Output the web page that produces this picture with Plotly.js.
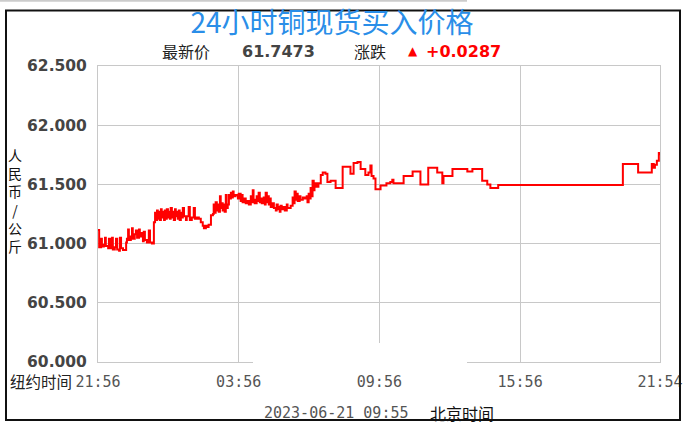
<!DOCTYPE html>
<html>
<head>
<meta charset="utf-8">
<script src="https://cdn.plot.ly/plotly-3.0.1.min.js"></script>
<style>html,body{margin:0;padding:0;background:#fff;}#chart{width:688px;height:437px;}</style>
</head>
<body>
<div id="chart"></div>
<script>
// minutes since 21:56 (New York time) and price in CNY/kg (x1000)
const minutes = [0,3,8,10,15,18,20,26,28,31,33,36,38,43,46,49,54,56,59,64,72,74,77,79,84,87,89,94,97,100,105,107,112,115,117,120,125,130,133,138,
143,146,148,151,153,156,158,161,163,166,169,171,174,176,179,181,184,186,189,192,194,197,199,202,204,207,209,212,215,217,220,225,227,232,235,240,245,248,253,258,
263,268,271,276,281,283,289,294,296,299,301,304,306,309,312,314,317,319,322,324,327,329,332,335,337,340,342,345,347,352,358,360,365,368,370,373,378,381,386,391,
393,396,398,401,406,409,411,414,416,419,424,427,429,432,434,437,439,442,447,450,455,457,460,462,465,467,470,475,478,483,485,493,498,501,503,506,508,511,516,518,
524,529,534,536,539,541,544,547,549,552,554,559,564,570,575,582,587,595,608,626,646,654,664,672,684,692,697,700,705,710,723,738,748,753,756,782,805,825,845,868,
881,884,907,945,958,983,996,1004,1024,1343,1382,1417,1422,1425,1430,1435,1438];
const prices = [61115,60970,61040,60975,60990,61050,60980,60960,61040,60990,60960,61050,60950,60970,61040,60950,60940,61050,60960,60945,61010,61040,61120,61030,61060,61130,61040,61080,61110,61050,61120,61060,61090,61020,61100,61030,61010,61110,61010,61000,
61180,61260,61200,61280,61210,61270,61200,61290,61220,61270,61200,61280,61210,61290,61220,61270,61210,61300,61220,61270,61200,61290,61230,61270,61210,61280,61200,61260,61220,61300,61230,61200,61230,61310,61200,61220,61300,61210,61220,61210,
61180,61150,61130,61150,61140,61160,61240,61250,61330,61260,61350,61280,61330,61270,61400,61300,61340,61280,61330,61270,61410,61300,61330,61410,61380,61430,61390,61440,61400,61410,61380,61420,61360,61410,61350,61380,61340,61360,61330,61400,
61350,61450,61370,61340,61400,61360,61430,61350,61380,61340,61390,61330,61430,61350,61400,61330,61380,61310,61340,61300,61280,61330,61290,61310,61270,61320,61290,61310,61280,61330,61300,61320,61390,61340,61440,61370,61420,61360,61400,61370,
61390,61380,61400,61350,61420,61380,61470,61400,61530,61450,61510,61480,61510,61580,61600,61590,61520,61530,61470,61650,61590,61680,61690,61630,61580,61600,61660,61570,61550,61460,61490,61510,61520,61540,61510,61570,61610,61500,61640,61600,
61510,61570,61630,61610,61630,61530,61500,61470,61495,61672,61600,61672,61640,61665,61700,61765,61747];

const xTickVals = [0,360,720,1080,1438];
const xTickText = ['21:56','03:56','09:56','15:56','21:54'];
const yTickVals = [60000,60500,61000,61500,62000,62500];
const yTickText = ['60.000','60.500','61.000','61.500','62.000','62.500'];

const L = 98, T = 66, W = 562, H = 296;
const px = x => (x - L) / W;
const py = y => (T + H - y) / H;

const trace = {
  x: minutes, y: prices, type: 'scatter', mode: 'lines',
  line: {shape: 'hv', color: '#ff0000', width: 2},
  hoverinfo: 'skip'
};

const numFont = {family: 'DejaVu Sans, sans-serif', size: 16, color: '#444444', weight: 'bold'};
const cjk = 'Noto Sans CJK SC, sans-serif';

const layout = {
  width: 688, height: 437,
  margin: {l: L, r: 688 - L - W, t: T, b: 437 - T - H, pad: 0},
  paper_bgcolor: '#ffffff', plot_bgcolor: '#ffffff',
  showlegend: false,
  title: {
    text: '24小时铜现货买入价格',
    font: {family: cjk, size: 28, color: '#2a8ee8'},
    x: 332 / 688, xref: 'container', xanchor: 'center',
    y: 1 - 23 / 437, yref: 'container', yanchor: 'middle'
  },
  xaxis: {
    range: [0, 1438], tickvals: xTickVals, ticktext: xTickText,
    showgrid: true, gridcolor: '#c8c8c8', gridwidth: 1,
    showline: true, linecolor: '#c8c8c8', linewidth: 1, mirror: true,
    zeroline: false, ticks: '', ticklabelstandoff: 6,
    tickfont: {family: 'DejaVu Sans Mono, monospace', size: 15, color: '#555555'},
    fixedrange: true
  },
  yaxis: {
    range: [60000, 62500], tickvals: yTickVals, ticktext: yTickText,
    showgrid: true, gridcolor: '#c8c8c8', gridwidth: 1,
    showline: true, linecolor: '#c8c8c8', linewidth: 1, mirror: true,
    zeroline: false, ticks: '', ticklabelstandoff: 7,
    tickfont: {family: 'DejaVu Sans, sans-serif', size: 15.5, color: '#444444', weight: 'bold'}, fixedrange: true
  },
  annotations: [
    {text: '最新价', x: px(160), y: py(51), xref: 'paper', yref: 'paper', xanchor: 'left', yanchor: 'middle', showarrow: false, font: {family: cjk, size: 16, color: '#222222'}},
    {text: '61.7473', x: px(240), y: py(51), xref: 'paper', yref: 'paper', xanchor: 'left', yanchor: 'middle', showarrow: false, font: numFont},
    {text: '涨跌', x: px(352), y: py(51), xref: 'paper', yref: 'paper', xanchor: 'left', yanchor: 'middle', showarrow: false, font: {family: cjk, size: 16, color: '#222222'}},
    {text: '▲', x: px(406), y: py(51), xref: 'paper', yref: 'paper', xanchor: 'left', yanchor: 'middle', showarrow: false, font: {family: 'DejaVu Sans, sans-serif', size: 12, color: '#ff0000'}},
    {text: '+0.0287', x: px(424), y: py(51), xref: 'paper', yref: 'paper', xanchor: 'left', yanchor: 'middle', showarrow: false, font: {family: 'DejaVu Sans, sans-serif', size: 16, color: '#ff0000', weight: 'bold'}},
    {text: '人<br>民<br>币<br>/<br>公<br>斤', x: px(15), y: py(201), xref: 'paper', yref: 'paper', xanchor: 'center', yanchor: 'middle', showarrow: false, font: {family: cjk, size: 14, color: '#111111'}},
    {text: '纽约时间', x: px(8), y: py(381), xref: 'paper', yref: 'paper', xanchor: 'left', yanchor: 'middle', showarrow: false, font: {family: cjk, size: 15.5, color: '#222222'}},
    {text: '2023-06-21 09:55', x: px(262), y: py(413), xref: 'paper', yref: 'paper', xanchor: 'left', yanchor: 'middle', showarrow: false, font: {family: 'DejaVu Sans Mono, monospace', size: 15, color: '#555555'}},
    {text: '北京时间', x: px(428), y: py(413), xref: 'paper', yref: 'paper', xanchor: 'left', yanchor: 'middle', showarrow: false, font: {family: cjk, size: 16, color: '#111111'}}
  ],
  shapes: [
    {type: 'rect', xref: 'paper', yref: 'paper', x0: px(253), x1: px(467), y0: py(366), y1: py(343), fillcolor: '#ffffff', line: {width: 0}, layer: 'above'},
    {type: 'rect', xref: 'paper', yref: 'paper', x0: px(6), x1: px(680), y0: py(420), y1: py(10.5), line: {color: '#111111', width: 2}, layer: 'above'},
    {type: 'line', xref: 'paper', yref: 'paper', x0: px(0), x1: px(467), y0: py(0.8), y1: py(0.8), line: {color: '#cccccc', width: 2}, layer: 'above'}
  ]
};

Plotly.newPlot('chart', [trace], layout, {staticPlot: true, displayModeBar: false});
</script>
</body>
</html>
